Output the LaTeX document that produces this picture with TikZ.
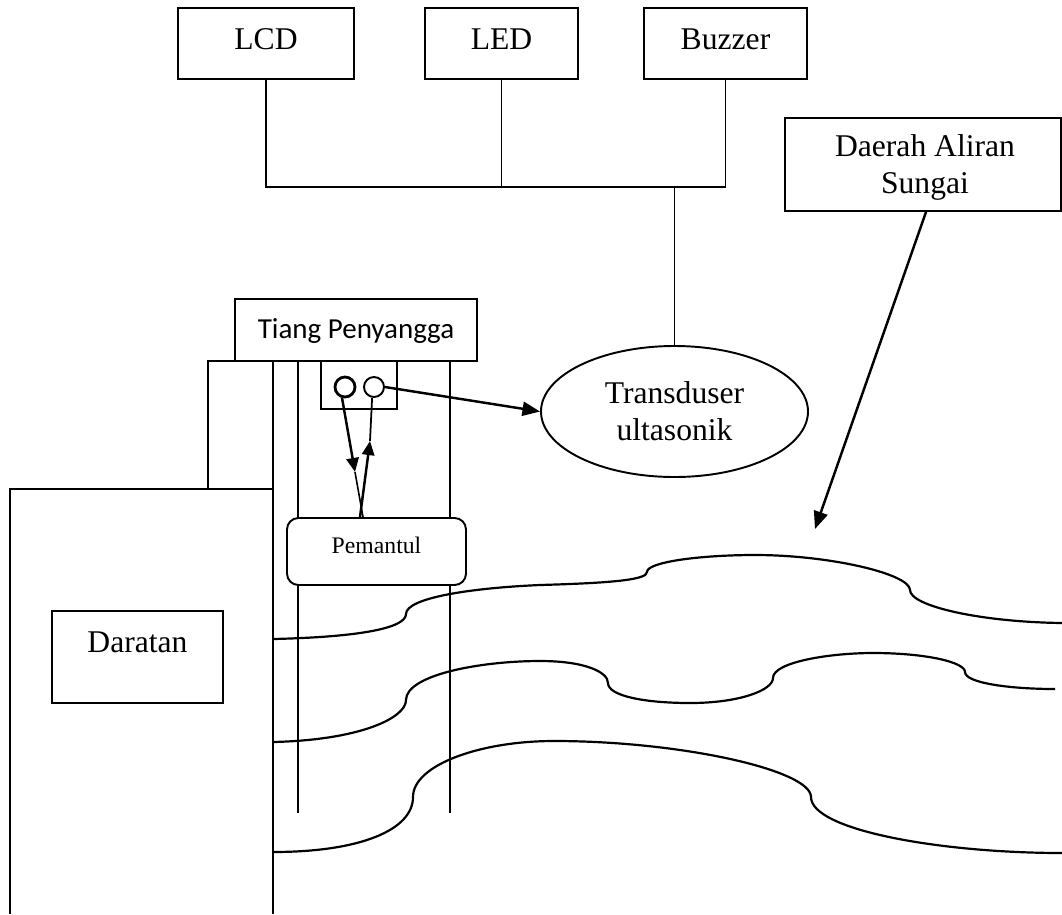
\documentclass[tikz,border=0pt]{standalone}
\usepackage{fontspec}
\setmainfont{Liberation Serif}
\newfontfamily\calib{Carlito}
\usetikzlibrary{arrows.meta,shapes.geometric}
\def\u{0.02cm}
\begin{document}
\begin{tikzpicture}[x=0.02cm,y=-0.02cm,
  ln/.style={line width=1.05pt},
  box/.style={draw,line width=1.1pt,inner sep=0pt,rectangle},
  txt/.style={inner sep=0pt,anchor=base,font=\fontsize{18}{21}\selectfont},
  arr/.style={line width=1.4pt,-{Triangle[length=10pt,width=8pt]}},
  arrs/.style={line width=1.4pt,-{Triangle[length=8pt,width=7pt]}},
  wave/.style={line width=1.25pt}]
\fill[white] (0,0) rectangle (1062,914);
\useasboundingbox (0,0) rectangle (1062,914);

% top boxes
\node[box,minimum width=176*\u,minimum height=71*\u] (lcd) at (266,43.5) {};
\node[box,minimum width=153*\u,minimum height=71*\u] (led) at (501.5,43.5) {};
\node[box,minimum width=163*\u,minimum height=71*\u] (buz) at (725.5,43.5) {};
\node[txt] (tlcd) at (266,49.5) {LCD};
\node[txt] (tled) at (501.5,49.5) {LED};
\node[txt] (tbuz) at (725.5,49.5) {Buzzer};

% river area box
\node[box,minimum width=276*\u,minimum height=93*\u] (daerah) at (923,164.5) {};
\node[txt] (td1) at (925,156) {Daerah Aliran};
\node[txt] (td2) at (925,193) {Sungai};

% transducer
\node[ellipse,draw,line width=1.1pt,inner sep=0pt,minimum width=267*\u,minimum height=131*\u] (trans) at (674.5,411.5) {};
\node[txt] (tt1) at (674.5,403) {Transduser};
\node[txt] (tt2) at (674.5,440) {ultasonik};

% bus lines
\coordinate (busy) at (0,187);
\draw[ln] (lcd.south) -- (lcd.south |- busy) -- (buz.south |- busy) -- (buz.south);
\draw[ln] (led.south) -- (led.south |- busy);
\draw[ln] (trans.north) -- (trans.north |- busy);

% land
\draw[ln] (10,914) -- (10,489) -- (273,489);
\draw[ln] (208,489) -- (208,361) -- (273,361);
\draw[ln] (273,361) -- (273,914);

% pillar lines
\draw[ln] (298,361) -- (298,813);
\draw[ln] (450,361) -- (450,813);

% support box
\node[box,minimum width=242*\u,minimum height=62*\u] (tiang) at (356,330) {};
\node[inner sep=0pt,anchor=base,font=\calib\fontsize{16.5}{20}\selectfont] (ttiang) at (356,338) {Tiang Penyangga};

% sensor box and circles
\node[box,minimum width=76*\u,minimum height=48*\u] (sens) at (359,385) {};
\node[circle,draw,line width=1.6pt,inner sep=0pt,minimum size=20*\u] (c1) at (345,387) {};
\node[circle,draw,line width=1.1pt,inner sep=0pt,minimum size=20*\u] (c2) at (374,387) {};

% reflector
\node[draw,line width=1.1pt,fill=white,rounded corners=6.5pt,inner sep=0pt,minimum width=179*\u,minimum height=67*\u] (pem) at (376.5,551.5) {};
\node[inner sep=0pt,anchor=base,font=\fontsize{13.5}{16}\selectfont] (tpem) at (376.5,553) {Pemantul};

% daratan
\node[box,minimum width=171*\u,minimum height=92*\u] (darat) at (137.5,657) {};
\node[txt] (tdarat) at (137.5,652) {Daratan};

% sensor arrows
\coordinate (atip) at (355,472);
\coordinate (btip) at (370,441);
\draw[arrs] (c1.-105) -- (atip);
\draw[line width=0.9pt] (atip) -- ([xshift=-13.5*\u]pem.north);
\draw[arrs] ([xshift=-16.5*\u]pem.north) -- (btip);
\draw[line width=1pt] (btip) -- (c2.-100);
\draw[arr] (c2.east) -- (trans.west);

% river arrow
\coordinate (dtip) at (815,529);
\draw[arr] ([xshift=3*\u]daerah.south) -- (dtip);

% waves
\draw[wave] (273,639) .. controls (360,637) and (406,628) .. (406,614)
  .. controls (406,598) and (470,588) .. (540,585)
  .. controls (610,583) and (647,580) .. (647,572)
  .. controls (647,562) and (700,555) .. (755,555)
  .. controls (830,555) and (910,574) .. (910,590)
  .. controls (910,606) and (980,622) .. (1062,623);
\draw[wave] (273,742) .. controls (360,740) and (406,718) .. (406,700)
  .. controls (406,675) and (480,661) .. (540,661)
  .. controls (585,661) and (608,672) .. (608,683)
  .. controls (608,696) and (645,703) .. (690,703)
  .. controls (740,703) and (773,690) .. (773,678)
  .. controls (773,662) and (830,653) .. (873,653)
  .. controls (925,653) and (965,662) .. (965,672)
  .. controls (965,683) and (1010,689) .. (1055,689);
\draw[wave] (273,852) .. controls (360,852) and (413,830) .. (413,797)
  .. controls (413,765) and (480,741) .. (554,741)
  .. controls (680,741) and (811,770) .. (811,797)
  .. controls (811,830) and (940,853) .. (1062,853);
\end{tikzpicture}
\end{document}
